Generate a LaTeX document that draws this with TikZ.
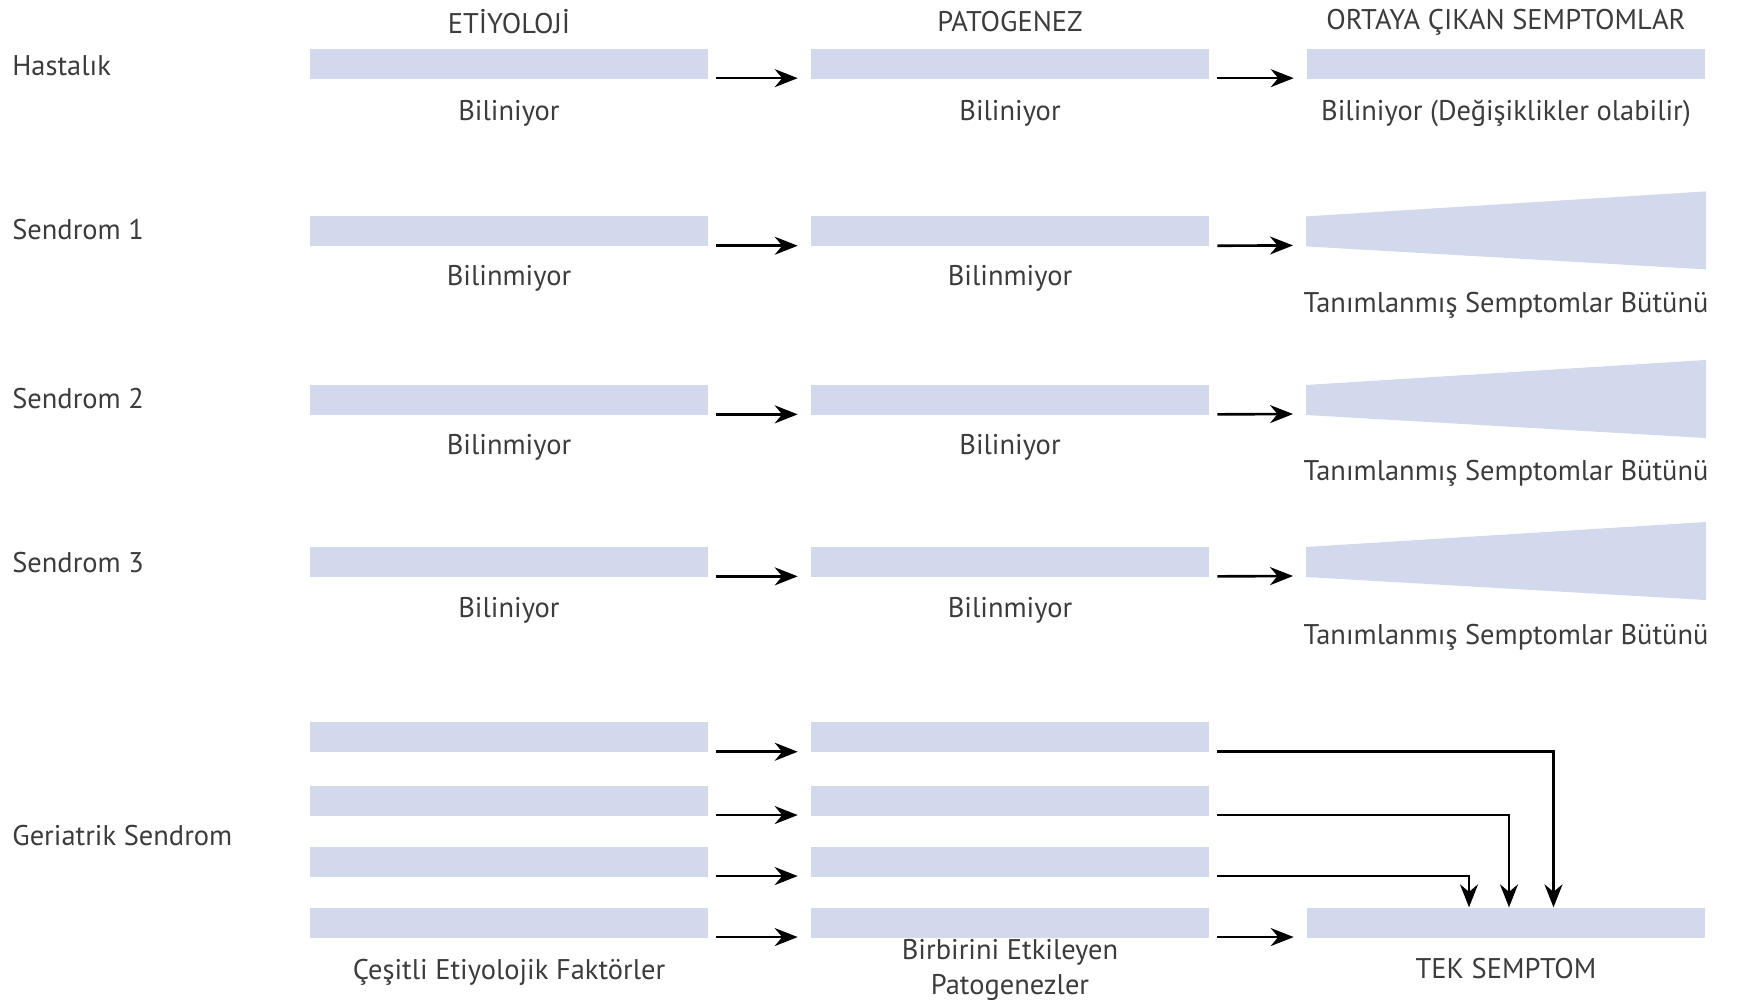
\documentclass[tikz,border=0pt]{standalone}
\usepackage{fontspec}
\setmainfont{PT Sans}
\usepackage{tikz}
\usetikzlibrary{arrows.meta,positioning}
\definecolor{ink}{HTML}{3C3C3C}
\definecolor{barfill}{HTML}{D3D9EC}
\tikzset{
  bar/.style={fill=barfill, inner sep=0pt, minimum width=7.96cm, minimum height=0.6cm},
  flow/.style={draw=black, line width=1.5pt, -{Stealth[length=0.46cm,width=0.36cm,inset=0.15cm]}},
  lab/.style={text=ink, font=\fontsize{16.2}{19.5}\selectfont, inner sep=0pt, align=center},
  rowlab/.style={lab, anchor=west},
}
\begin{document}
\begin{tikzpicture}[x=0.02cm,y=-0.02cm]
\useasboundingbox (0,0) rectangle (1740,1004);

% column heads
\node[lab] (hEti) at (509,22) {ETİYOLOJİ};
\node[lab] (hPat) at (1010,22) {PATOGENEZ};
\node[lab] (hSym) at (1506,22) {ORTAYA ÇIKAN SEMPTOMLAR};

% row names
\node[rowlab] (nH) at (12,65.5) {Hastalık};
\node[rowlab] (nS1) at (12,229.7) {Sendrom 1};
\node[rowlab] (nS2) at (12,398.4) {Sendrom 2};
\node[rowlab] (nS3) at (12,562.6) {Sendrom 3};
\node[rowlab] (nG) at (12,835.6) {Geriatrik Sendrom};

% etiology -> pathogenesis bars (rows 1..8)
\foreach \r/\y in {1/63.8,2/231.4,3/400,4/562,5/737.4,6/800.7,7/861.7,8/922.7}{
  \node[bar] (e\r) at (509,\y) {};
  \node[bar] (p\r) at (1010,\y) {};
  \draw[flow] ([xshift=0.16cm,yshift=0.02cm]e\r.south east) -- ([xshift=-0.26cm,yshift=0.02cm]p\r.south west);
}

% symptoms: plain bar, then widening wedges
\node[bar] (s1) at (1506,63.8) {};
\draw[flow] ([xshift=0.16cm,yshift=0.02cm]p1.south east) -- ([xshift=-0.26cm,yshift=0.02cm]s1.south west);
\foreach \r/\y in {2/231.4,3/400,4/562}{
  \fill[barfill] (1306,\y-15) -- (1706,\y-40) -- (1706,\y+38) -- (1306,\y+15) -- cycle;
  \coordinate (s\r) at (1306,\y+15);
  \draw[flow] ([xshift=0.16cm,yshift=0.02cm]p\r.south east) -- ([xshift=-0.26cm,yshift=0.02cm]s\r);
}

% labels under the bars
\node[lab] (l1e) at (509,113.5) {Biliniyor};
\node[lab] (l1p) at (1010,113.5) {Biliniyor};
\node[lab] (l1s) at (1506,113.5) {Biliniyor (Değişiklikler olabilir)};
\node[lab] (l2e) at (509,278.5) {Bilinmiyor};
\node[lab] (l2p) at (1010,278.5) {Bilinmiyor};
\node[lab] (l2s) at (1506,305) {Tanımlanmış Semptomlar Bütünü};
\node[lab] (l3e) at (509,447) {Bilinmiyor};
\node[lab] (l3p) at (1010,447) {Biliniyor};
\node[lab] (l3s) at (1506,473.8) {Tanımlanmış Semptomlar Bütünü};
\node[lab] (l4e) at (509,610) {Biliniyor};
\node[lab] (l4p) at (1010,610) {Bilinmiyor};
\node[lab] (l4s) at (1506,637) {Tanımlanmış Semptomlar Bütünü};

% geriatric: many causes -> one symptom
\node[bar] (t) at (1506,922.7) {};
\draw[flow] ([xshift=0.16cm,yshift=0.02cm]p8.south east) -- ([xshift=-0.26cm,yshift=0.02cm]t.south west);
\draw[flow] ([xshift=0.16cm,yshift=0.02cm]p5.south east) -| ([xshift=0.95cm]t.north);
\draw[flow] ([xshift=0.16cm,yshift=0.02cm]p6.south east) -| ([xshift=0.06cm]t.north);
\draw[flow] ([xshift=0.16cm,yshift=0.02cm]p7.south east) -| ([xshift=-0.74cm]t.north);
\node[lab] (l5e) at (509,972) {Çeşitli Etiyolojik Faktörler};
\node[lab] (l5p) at (1010,970) {Birbirini Etkileyen\\Patogenezler};
\node[lab] (l5s) at (1506,968.8) {TEK SEMPTOM};
\end{tikzpicture}
\end{document}
